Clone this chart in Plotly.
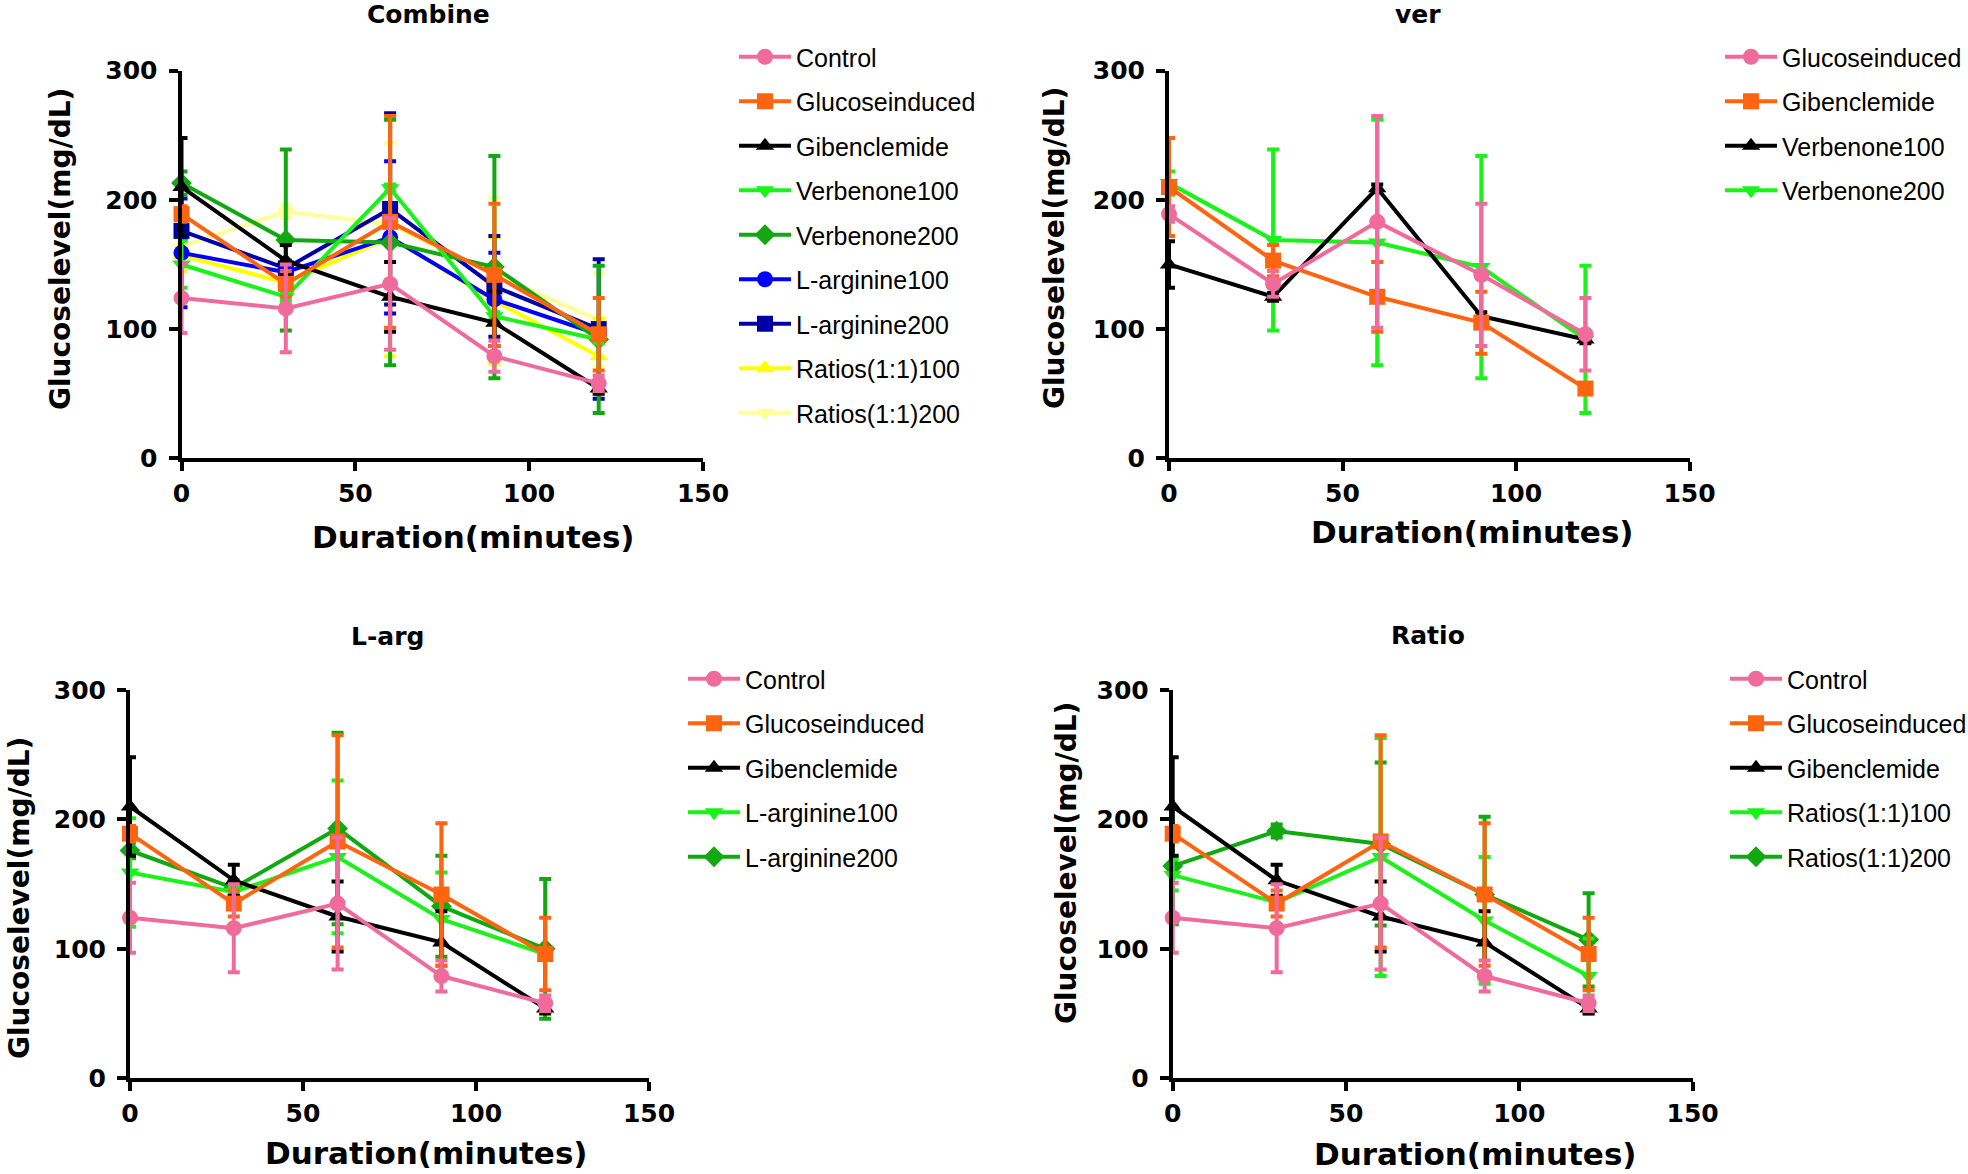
import plotly.graph_objects as go

# ---------------- data ----------------
time_min = [0, 30, 60, 90, 120]

control_mean = [124, 116, 135, 79, 58]
control_err = [27, 34, 51, 12, 6]
glucose_mean = [189, 135, 183, 142, 96]
glucose_err = [6, 10, 82, 55, 28]
gliben_mean = [210, 153, 125, 105, 54]
gliben_err = [38, 12, 27, 24, 4]
verb100_mean = [150, 125, 209, 110, 92]
verb100_err = [18, 3, 3, 3, 3]
verb200_mean = [213, 169, 167, 148, 92]
verb200_err = [9, 70, 95, 86, 57]
larg100_mean = [159, 144, 171, 123, 96]
larg100_err = [42, 4, 59, 36, 4]
larg200_mean = [176, 147, 193, 133, 100]
larg200_err = [6, 6, 74, 39, 54]
ratio100_mean = [157, 136, 171, 122, 79]
ratio100_err = [12, 4, 92, 49, 29]
ratio200_mean = [164, 191, 181, 142, 107]
ratio200_err = [45, 5, 63, 60, 36]

panel_titles = ["Combine", "ver", "L-arg", "Ratio"]
x_title = "Duration(minutes)"
y_title = "Glucoselevel(mg/dL)"
x_ticks = [0, 50, 100, 150]
y_ticks = [0, 100, 200, 300]

# ---------------- styles ----------------
PINK = "#F06B9B"
ORANGE = "#FF6410"
BLACK = "#000000"
LGREEN = "#1AF21A"
DGREEN = "#12A812"
BLUE = "#0000FF"
DBLUE = "#0000A8"
YELLOW = "#FFFF00"
PYELLOW = "#FFFF99"

data = {
    "Control": (control_mean, control_err),
    "Glucoseinduced": (glucose_mean, glucose_err),
    "Gibenclemide": (gliben_mean, gliben_err),
    "Verbenone100": (verb100_mean, verb100_err),
    "Verbenone200": (verb200_mean, verb200_err),
    "L-arginine100": (larg100_mean, larg100_err),
    "L-arginine200": (larg200_mean, larg200_err),
    "Ratios(1:1)100": (ratio100_mean, ratio100_err),
    "Ratios(1:1)200": (ratio200_mean, ratio200_err),
}

panels = [
    [("Control", PINK, "circle"), ("Glucoseinduced", ORANGE, "square"),
     ("Gibenclemide", BLACK, "triangle-up"), ("Verbenone100", LGREEN, "triangle-down"),
     ("Verbenone200", DGREEN, "diamond"), ("L-arginine100", BLUE, "circle"),
     ("L-arginine200", DBLUE, "square"), ("Ratios(1:1)100", YELLOW, "triangle-up"),
     ("Ratios(1:1)200", PYELLOW, "triangle-down")],
    [("Glucoseinduced", PINK, "circle"), ("Gibenclemide", ORANGE, "square"),
     ("Verbenone100", BLACK, "triangle-up"), ("Verbenone200", LGREEN, "triangle-down")],
    [("Control", PINK, "circle"), ("Glucoseinduced", ORANGE, "square"),
     ("Gibenclemide", BLACK, "triangle-up"), ("L-arginine100", LGREEN, "triangle-down"),
     ("L-arginine200", DGREEN, "diamond")],
    [("Control", PINK, "circle"), ("Glucoseinduced", ORANGE, "square"),
     ("Gibenclemide", BLACK, "triangle-up"), ("Ratios(1:1)100", LGREEN, "triangle-down"),
     ("Ratios(1:1)200", DGREEN, "diamond")],
]

W, H = 1968, 1174
# pixel boxes of each plot area: (x at 0, x at 150, y px at 300, y px at 0)
boxes = [
    (181.5, 703.0, 70.7, 458.3),
    (1169.0, 1689.5, 70.7, 458.3),
    (130.0, 649.0, 690.0, 1078.3),
    (1172.7, 1692.6, 690.0, 1078.3),
]
legend_pos = [(796, 57), (1782, 57), (745, 679), (1787, 679)]
title_pos = [(428, 15), (1418, 15), (387, 636), (1428, 635)]
xtitle_pos = [(473, 537), (1472, 532), (426, 1153), (1475, 1154)]
ytitle_pos = [(60, 249), (1055, 248), (19, 898), (1066, 863)]

AX_FONT = dict(family="DejaVu Sans", size=25, color="black", weight="bold")
LEG_FONT = dict(family="Liberation Sans, Arial", size=25, color="black")
ITEMW = 52

fig = go.Figure()

for p, series in enumerate(panels):
    k = "" if p == 0 else str(p + 1)
    leg = "legend" + k
    # draw in reverse so the first series is on top
    for i in reversed(range(len(series))):
        name, color, symbol = series[i]
        mean, err = data[name]
        fig.add_trace(go.Scatter(
            x=time_min, y=mean, name=name, mode="lines+markers",
            line=dict(color=color, width=4),
            marker=dict(color=color, symbol=symbol, size=16, line=dict(width=0)),
            error_y=dict(type="data", array=err, visible=True, color=color,
                         thickness=4, width=6),
            cliponaxis=False,
            xaxis="x" + k, yaxis="y" + k,
            legend=leg, legendgroup=f"p{p}_{i}", legendrank=i + 1,
        ))

layout = dict(
    width=W, height=H, margin=dict(l=0, r=0, t=0, b=0, autoexpand=False),
    paper_bgcolor="white", plot_bgcolor="white", showlegend=True,
)
axis_common = dict(
    showgrid=False, zeroline=False, showline=True, linecolor="black", linewidth=4,
    ticks="outside", ticklen=9, tickwidth=4, tickcolor="black",
    tickfont=AX_FONT, automargin=False,
)
annotations = []
for p in range(4):
    k = "" if p == 0 else str(p + 1)
    x0, x1, ytop, ybot = boxes[p]
    layout["xaxis" + k] = dict(
        axis_common, domain=[x0 / W, x1 / W], range=[0, 150],
        tickvals=x_ticks, anchor="y" + k, ticklabelstandoff=1,
    )
    layout["yaxis" + k] = dict(
        axis_common, domain=[1 - ybot / H, 1 - ytop / H], range=[0, 300],
        tickvals=y_ticks, anchor="x" + k, ticklabelstandoff=6,
    )
    lx, ly = legend_pos[p]
    layout["legend" + k] = dict(
        x=(lx - ITEMW - 10) / W, y=1 - (ly - 23) / H, xanchor="left", yanchor="top",
        font=LEG_FONT, bgcolor="rgba(0,0,0,0)", borderwidth=0,
        traceorder="grouped", tracegroupgap=9, itemwidth=ITEMW,
    )
    tx, ty = title_pos[p]
    annotations.append(dict(
        text=panel_titles[p], x=tx / W, y=1 - ty / H, xref="paper", yref="paper",
        showarrow=False, xanchor="center", yanchor="middle",
        font=dict(family="DejaVu Sans", size=25, color="black", weight="bold"),
    ))
    xx, xy = xtitle_pos[p]
    annotations.append(dict(
        text=x_title, x=xx / W, y=1 - xy / H, xref="paper", yref="paper",
        showarrow=False, xanchor="center", yanchor="middle",
        font=dict(family="DejaVu Sans", size=31, color="black", weight="bold"),
    ))
    yx, yy = ytitle_pos[p]
    annotations.append(dict(
        text=y_title, x=yx / W, y=1 - yy / H, xref="paper", yref="paper",
        showarrow=False, xanchor="center", yanchor="middle", textangle=-90,
        font=dict(family="DejaVu Sans", size=28, color="black", weight="bold"),
    ))
layout["annotations"] = annotations
fig.update_layout(**layout)

fig.write_html(
    "out.html",
    config={"displayModeBar": False},
    post_script="document.body.style.margin='0px';document.body.style.overflow='hidden';",
)
